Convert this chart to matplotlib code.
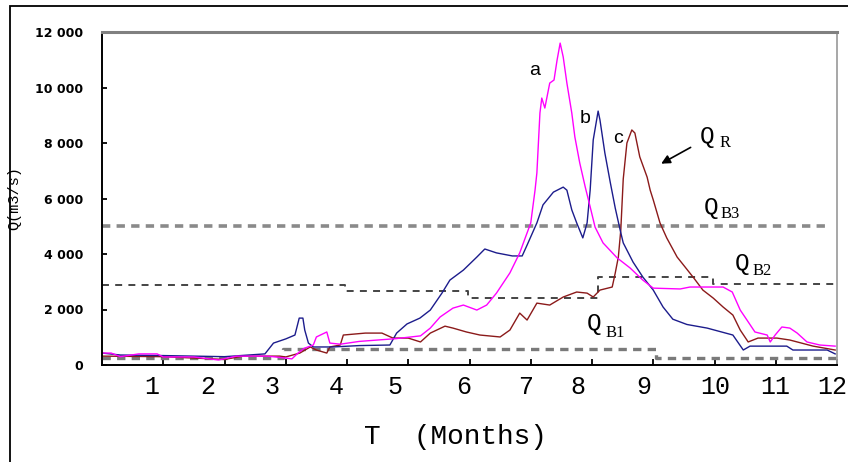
import matplotlib
matplotlib.use("Agg")
import matplotlib.pyplot as plt
from matplotlib.patches import Rectangle

plt.rcParams['lines.scale_dashes'] = False

# courbe a (magenta)
mois_a = [0, 0.15, 0.3, 0.6, 0.9, 1.0, 1.5, 1.9, 2.2, 2.7, 3.0, 3.1, 3.2, 3.3,
          3.45, 3.5, 3.67, 3.72, 3.89, 4.2, 4.8, 5.2, 5.36, 5.52, 5.73, 5.9,
          6.12, 6.28, 6.44, 6.66, 6.82, 6.94, 7.0, 7.07, 7.1, 7.15, 7.18, 7.23,
          7.31, 7.38, 7.43, 7.48, 7.53, 7.59, 7.67, 7.72, 7.8, 7.89, 7.97, 8.05,
          8.18, 8.41, 8.62, 8.83, 9.0, 9.44, 9.6, 9.76, 10.14, 10.29, 10.42,
          10.53, 10.66, 10.86, 10.91, 10.99, 11.1, 11.23, 11.35, 11.51, 11.72,
          11.97]
debit_a = [430, 430, 300, 400, 400, 290, 290, 180, 320, 320, 250, 220, 430, 600,
           720, 1010, 1190, 790, 750, 850, 950, 1050, 1330, 1730, 2050, 2160,
           1980, 2160, 2590, 3320, 4040, 4760, 5120, 6300, 6920, 9080, 9620, 9260,
           10160, 10270, 10990, 11600, 11100, 10160, 9080, 8220, 7280, 6410, 5700, 4970,
           4400, 3860, 3500, 3060, 2770, 2740, 2810, 2810, 2810, 2630, 1980,
           1620, 1190, 1080, 830, 1080, 1370, 1330, 1150, 830, 720,
           680]

# courbe b (bleu)
mois_b = [0, 0.3, 1.0, 2.0, 2.66, 2.8, 3.0, 3.15, 3.22, 3.28, 3.31, 3.37, 3.45,
          3.77, 4.2, 4.7, 4.81, 4.98, 5.19, 5.36, 5.55, 5.68, 5.9, 6.12, 6.25,
          6.44, 6.7, 6.86, 6.94, 7.1, 7.2, 7.37, 7.53, 7.59, 7.67, 7.75, 7.85,
          7.92, 7.97, 8.02, 8.1, 8.13, 8.21, 8.3, 8.38, 8.46, 8.51, 8.67, 8.83,
          9.0, 9.16, 9.32, 9.55, 9.88, 10.3, 10.47, 10.58, 11.18, 11.28, 11.84,
          11.97]
debit_b = [430, 360, 340, 300, 400, 790, 940, 1080, 1690, 1690, 1260, 790, 650,
           650, 700, 720, 1150, 1480, 1690, 1980, 2590, 3060, 3420, 3890, 4180,
           4040, 3930, 3930, 4320, 5120, 5770, 6230, 6410, 6300, 5590, 5120, 4580,
           5120, 6300, 8110, 9150, 8830, 7640, 6560, 5650, 4860, 4400, 3710, 3170,
           2700, 2090, 1650, 1460, 1330, 1080, 540, 680, 680, 540, 540,
           400]

# courbe c (rouge)
mois_c = [0, 1.0, 1.5, 2.0, 2.3, 2.9, 3.0, 3.23, 3.4, 3.5, 3.67, 3.72, 3.89,
          3.94, 4.3, 4.57, 4.75, 5.0, 5.2, 5.36, 5.6, 5.73, 5.95, 6.17, 6.5,
          6.66, 6.82, 6.94, 7.1, 7.31, 7.53, 7.75, 7.92, 8.02, 8.13, 8.33, 8.38,
          8.43, 8.47, 8.51, 8.57, 8.65, 8.7, 8.78, 8.9, 8.95, 9.0, 9.11, 9.22,
          9.39, 9.52, 9.66, 9.81, 9.98, 10.14, 10.3, 10.42, 10.55, 10.71, 11.02,
          11.23, 11.61, 11.97]
debit_c = [320, 300, 250, 200, 320, 320, 290, 430, 650, 540, 430, 650, 720,
           1080, 1150, 1150, 970, 970, 830, 1150, 1400, 1330, 1190, 1080, 1010,
           1260, 1870, 1620, 2230, 2160, 2450, 2630, 2590, 2450, 2700, 2810, 3320,
           3890, 4860, 6700, 8000, 8470, 8360, 7500, 6770, 6300, 5950, 5120, 4580,
           3890, 3530, 3140, 2700, 2410, 2090, 1800, 1260, 830, 970, 970,
           900, 680, 540]

# debits de reference (paliers)
mois_qb1 = [0, 2.95, 9.05, 12]
debit_qb1 = [250, 580, 250, 250]
mois_qb2 = [0, 3.97, 5.97, 8.1, 9.97, 12]
debit_qb2 = [2900, 2670, 2420, 3170, 2920, 2920]
mois_qb3 = [0, 11.85]
debit_qb3 = [5000, 5000]

graduations_y = [0, 2000, 4000, 6000, 8000, 10000, 12000]
etiquettes_y = ["0", "2 000", "4 000", "6 000", "8 000", "10 000", "12 000"]
pos_etiquettes_x = [0.82, 1.73, 2.78, 3.82, 4.78, 5.91, 6.92, 7.77, 8.85, 10.01, 10.99, 11.92]
etiquettes_x = [str(m) for m in range(1, 13)]
graduations_x = list(range(1, 13))


def q_label(ax, xq, yq, indice, xs, ys):
    ax.text(xq, yq, "Q", fontsize=17.5, family="Liberation Mono", va="baseline")
    ax.text(xs, ys, indice, fontsize=12, family="Liberation Serif", va="baseline")


fig = plt.figure(figsize=(8.48, 4.62), dpi=100)
fig.patch.set_facecolor("white")
fig.add_artist(Rectangle((10 / 848, -0.05), 1.2, 1 - 6 / 462 + 0.05,
                         transform=fig.transFigure, fill=False, lw=1.3, ec="black"))

ax = fig.add_axes([102 / 848, 97 / 462, 735 / 848, 333 / 462])

ax.plot(mois_qb3, debit_qb3, color="#8a8a8a", lw=2.6, dashes=(6, 4.5))
ax.plot(mois_qb2, debit_qb2, color="#444444", lw=1.4, dashes=(5, 4.5), drawstyle="steps-post")
ax.plot(mois_qb1, debit_qb1, color="#7a7a7a", lw=2.4, dashes=(6, 4.5), drawstyle="steps-post")

ax.plot(mois_c, debit_c, color="#8b1a1a", lw=1.0)
ax.plot(mois_b, debit_b, color="#1c1c8c", lw=1.0)
ax.plot(mois_a, debit_a, color="#ff00ff", lw=1.0)

ax.set_xlim(0, 12)
ax.set_ylim(0, 12000)

ax.set_yticks(graduations_y)
ax.set_yticklabels(etiquettes_y, fontsize=9, fontweight="bold", family="DejaVu Sans")
ax.tick_params(axis="y", direction="in", length=3.5, width=1.3, pad=13.5)

ax.set_xticks(pos_etiquettes_x)
ax.set_xticklabels(etiquettes_x, fontsize=18, family="Liberation Mono")
ax.set_xticks(graduations_x, minor=True)
ax.tick_params(axis="x", which="major", length=0, pad=7)
ax.tick_params(axis="x", which="minor", direction="in", length=4, width=1.3)

for cote in ["left", "bottom"]:
    ax.spines[cote].set_color("black")
    ax.spines[cote].set_linewidth(1.4)
ax.spines["top"].set_color("#808080")
ax.spines["top"].set_linewidth(2.2)
ax.spines["right"].set_color("#a0a0a0")
ax.spines["right"].set_linewidth(1.3)

ax.set_ylabel("Q(m3/s)", fontsize=11, family="Liberation Mono")
ax.yaxis.set_label_coords(-0.110, 0.5)
fig.text(455 / 848, 1 - 437 / 462, "T  (Months)", fontsize=20, family="Liberation Mono",
         ha="center", va="center")

# lettres des hydrogrammes
ax.text(6.97, 10450, "a", fontsize=14, family="Liberation Sans", va="baseline")
ax.text(7.80, 8720, "b", fontsize=14, family="Liberation Sans", va="baseline")
ax.text(8.34, 8000, "c", fontsize=14, family="Liberation Sans", va="baseline")

q_label(ax, 9.76, 8000, "R", 10.08, 7856)
q_label(ax, 9.83, 5441, "B3", 10.10, 5297)
q_label(ax, 10.33, 3423, "B2", 10.62, 3243)
q_label(ax, 7.92, 1261, "B1", 8.22, 1009)

ax.annotate("", xy=(9.09, 7207), xytext=(9.65, 7890),
            arrowprops=dict(arrowstyle="-|>", color="black", lw=1.2, mutation_scale=13))

fig.savefig("out.png", dpi=100)
